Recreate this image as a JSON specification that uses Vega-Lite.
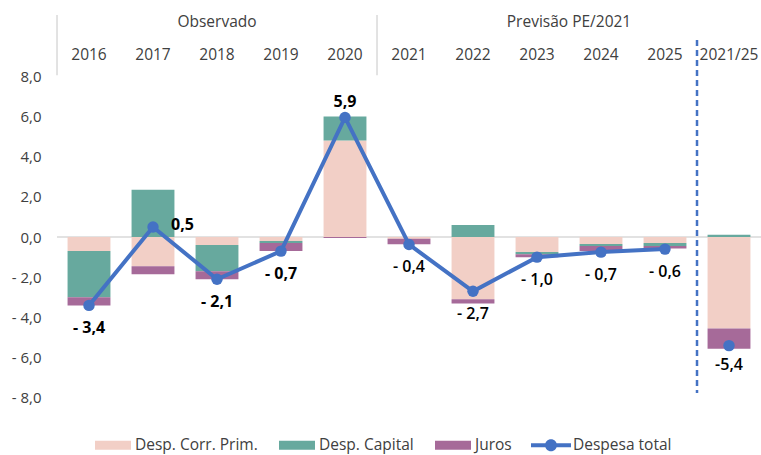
{
  "$schema": "https://vega.github.io/schema/vega-lite/v6.json",
  "width": 704,
  "height": 420,
  "autosize": {"type": "none"},
  "padding": {"left": 57, "top": 0, "right": 0, "bottom": 35},
  "background": "white",
  "config": {"view": {"stroke": null}, "font": "Open Sans"},
  "datasets": {
    "bars": [
      {"cat": "2016", "serie": "Desp. Corr. Prim.", "ord": 1, "value": -0.7},
      {"cat": "2016", "serie": "Desp. Capital", "ord": 2, "value": -2.3},
      {"cat": "2016", "serie": "Juros", "ord": 3, "value": -0.4},
      {"cat": "2017", "serie": "Desp. Corr. Prim.", "ord": 1, "value": -1.45},
      {"cat": "2017", "serie": "Desp. Capital", "ord": 2, "value": 2.35},
      {"cat": "2017", "serie": "Juros", "ord": 3, "value": -0.4},
      {"cat": "2018", "serie": "Desp. Corr. Prim.", "ord": 1, "value": -0.4},
      {"cat": "2018", "serie": "Desp. Capital", "ord": 2, "value": -1.3},
      {"cat": "2018", "serie": "Juros", "ord": 3, "value": -0.4},
      {"cat": "2019", "serie": "Desp. Corr. Prim.", "ord": 1, "value": -0.2},
      {"cat": "2019", "serie": "Desp. Capital", "ord": 2, "value": -0.1},
      {"cat": "2019", "serie": "Juros", "ord": 3, "value": -0.4},
      {"cat": "2020", "serie": "Desp. Corr. Prim.", "ord": 1, "value": 4.8},
      {"cat": "2020", "serie": "Desp. Capital", "ord": 2, "value": 1.2},
      {"cat": "2020", "serie": "Juros", "ord": 3, "value": -0.05},
      {"cat": "2021", "serie": "Desp. Corr. Prim.", "ord": 1, "value": -0.08},
      {"cat": "2021", "serie": "Desp. Capital", "ord": 2, "value": 0.0},
      {"cat": "2021", "serie": "Juros", "ord": 3, "value": -0.28},
      {"cat": "2022", "serie": "Desp. Corr. Prim.", "ord": 1, "value": -3.1},
      {"cat": "2022", "serie": "Desp. Capital", "ord": 2, "value": 0.6},
      {"cat": "2022", "serie": "Juros", "ord": 3, "value": -0.2},
      {"cat": "2023", "serie": "Desp. Corr. Prim.", "ord": 1, "value": -0.75},
      {"cat": "2023", "serie": "Desp. Capital", "ord": 2, "value": -0.1},
      {"cat": "2023", "serie": "Juros", "ord": 3, "value": -0.15},
      {"cat": "2024", "serie": "Desp. Corr. Prim.", "ord": 1, "value": -0.35},
      {"cat": "2024", "serie": "Desp. Capital", "ord": 2, "value": -0.1},
      {"cat": "2024", "serie": "Juros", "ord": 3, "value": -0.25},
      {"cat": "2025", "serie": "Desp. Corr. Prim.", "ord": 1, "value": -0.3},
      {"cat": "2025", "serie": "Desp. Capital", "ord": 2, "value": -0.15},
      {"cat": "2025", "serie": "Juros", "ord": 3, "value": -0.12},
      {"cat": "2021/25", "serie": "Desp. Corr. Prim.", "ord": 1, "value": -4.55},
      {"cat": "2021/25", "serie": "Desp. Capital", "ord": 2, "value": 0.12},
      {"cat": "2021/25", "serie": "Juros", "ord": 3, "value": -1.0}
    ],
    "totals": [
      {"cat": "2016", "period": "obs", "total": -3.4, "label": "- 3,4"},
      {"cat": "2017", "period": "obs", "total": 0.5, "label": "0,5"},
      {"cat": "2018", "period": "obs", "total": -2.1, "label": "- 2,1"},
      {"cat": "2019", "period": "obs", "total": -0.7, "label": "- 0,7"},
      {"cat": "2020", "period": "obs", "total": 5.95, "label": "5,9"},
      {"cat": "2021", "period": "prev", "total": -0.37, "label": "- 0,4"},
      {"cat": "2022", "period": "prev", "total": -2.7, "label": "- 2,7"},
      {"cat": "2023", "period": "prev", "total": -1.0, "label": "- 1,0"},
      {"cat": "2024", "period": "prev", "total": -0.75, "label": "- 0,7"},
      {"cat": "2025", "period": "prev", "total": -0.6, "label": "- 0,6"},
      {"cat": "2021/25", "period": "total", "total": -5.4, "label": "-5,4"}
    ]
  },
  "encoding": {
    "x": {
      "field": "cat",
      "type": "nominal",
      "sort": null,
      "scale": {
        "domain": ["2016", "2017", "2018", "2019", "2020", "2021", "2022", "2023", "2024", "2025", "2021/25"],
        "paddingInner": 0.33,
        "paddingOuter": 0.165
      },
      "axis": null
    }
  },
  "layer": [
    {
      "data": {"values": [{"z": 0}]},
      "mark": {"type": "rule", "color": "#D9D9D9", "strokeWidth": 1.5},
      "encoding": {
        "x": null,
        "y": {"datum": 0, "type": "quantitative", "scale": {"domain": [-9.1, 11.79], "nice": false, "zero": false}}
      }
    },
    {
      "data": {"name": "bars"},
      "mark": {"type": "bar"},
      "encoding": {
        "y": {
          "field": "value",
          "type": "quantitative",
          "stack": "zero",
          "scale": {"domain": [-9.1, 11.79], "nice": false, "zero": false},
          "axis": {
            "values": [-8, -6, -4, -2, 0, 2, 4, 6, 8],
            "labelExpr": "datum.value < 0 ? '- ' + replace(format(-datum.value, '.1f'), '.', ',') : replace(format(datum.value, '.1f'), '.', ',')",
            "ticks": false,
            "domain": false,
            "grid": false,
            "title": null,
            "labelFontSize": 15,
            "labelColor": "#404040",
            "labelPadding": 16
          }
        },
        "color": {
          "field": "serie",
          "type": "nominal",
          "scale": {
            "domain": ["Desp. Corr. Prim.", "Desp. Capital", "Juros", "Despesa total"],
            "range": ["#F2CFC6", "#67A99E", "#A66A99", "#4472C4"]
          },
          "legend": {
            "title": null,
            "orient": "none",
            "legendX": 36,
            "legendY": 425,
            "direction": "horizontal",
            "columns": 4,
            "columnPadding": 19,
            "labelFontSize": 15.5,
            "labelColor": "#404040",
            "labelOffset": 2,
            "symbolSize": 1600,
            "symbolType": "M-0.9,-0.225H0.9V0.225H-0.9Z",
            "symbolStrokeWidth": 0,
            "encode": {
              "symbols": {
                "update": {
                  "shape": {"signal": "datum.value === 'Despesa total' ? 'M-1,-0.1H1V0.1H-1Z M0.3,0A0.3,0.3 0 1,1 -0.3,0A0.3,0.3 0 1,1 0.3,0Z' : 'M-0.9,-0.225H0.9V0.225H-0.9Z'"},
                  "fill": {"scale": "color", "field": "value"},
                  "strokeWidth": {"value": 0},
                  "opacity": {"value": 1},
                  "fillOpacity": {"value": 1}
                }
              }
            }
          }
        },
        "order": {"field": "ord", "type": "quantitative"}
      }
    },
    {
      "data": {"name": "totals"},
      "transform": [{"filter": "datum.cat !== '2021/25'"}],
      "mark": {"type": "line", "strokeWidth": 4},
      "encoding": {
        "y": {"field": "total", "type": "quantitative"},
        "color": {"datum": "Despesa total", "type": "nominal"}
      }
    },
    {
      "data": {"name": "totals"},
      "mark": {"type": "point", "filled": true, "size": 130, "opacity": 1},
      "encoding": {
        "y": {"field": "total", "type": "quantitative"},
        "color": {"datum": "Despesa total", "type": "nominal"}
      }
    },
    {
      "data": {"name": "totals"},
      "transform": [{"filter": "datum.cat === '2017'"}],
      "mark": {"type": "text", "align": "left", "baseline": "middle", "dx": 18, "dy": -2, "fontSize": 16, "fontWeight": "bold", "color": "black"},
      "encoding": {"y": {"field": "total", "type": "quantitative"}, "text": {"field": "label"}}
    },
    {
      "data": {"name": "totals"},
      "transform": [{"filter": "datum.cat === '2020'"}],
      "mark": {"type": "text", "align": "center", "baseline": "middle", "dy": -15, "fontSize": 16, "fontWeight": "bold", "color": "black"},
      "encoding": {"y": {"field": "total", "type": "quantitative"}, "text": {"field": "label"}}
    },
    {
      "data": {"name": "totals"},
      "transform": [{"filter": "datum.period === 'obs' && datum.cat !== '2017' && datum.cat !== '2020'"}],
      "mark": {"type": "text", "align": "center", "baseline": "middle", "dy": 23, "fontSize": 16, "fontWeight": "bold", "color": "black"},
      "encoding": {"y": {"field": "total", "type": "quantitative"}, "text": {"field": "label"}}
    },
    {
      "data": {"name": "totals"},
      "transform": [{"filter": "datum.period === 'prev'"}],
      "mark": {"type": "text", "align": "center", "baseline": "middle", "dy": 23, "fontSize": 16, "fontWeight": 600, "color": "black"},
      "encoding": {"y": {"field": "total", "type": "quantitative"}, "text": {"field": "label"}}
    },
    {
      "data": {"name": "totals"},
      "transform": [{"filter": "datum.period === 'total'"}],
      "mark": {"type": "text", "align": "center", "baseline": "middle", "dy": 19, "fontSize": 16, "fontWeight": 600, "color": "black"},
      "encoding": {"y": {"field": "total", "type": "quantitative"}, "text": {"field": "label"}}
    },
    {
      "data": {"name": "totals"},
      "mark": {"type": "text", "align": "center", "baseline": "middle", "fontSize": 15.5, "color": "#404040"},
      "encoding": {"y": {"datum": 9.05, "type": "quantitative"}, "text": {"field": "cat"}}
    },
    {
      "data": {"values": [{"cat": "2018", "header": "Observado"}]},
      "mark": {"type": "text", "align": "center", "baseline": "middle", "fontSize": 15.5, "color": "#404040"},
      "encoding": {
        "x": {"field": "cat", "type": "nominal", "bandPosition": 0.5},
        "y": {"datum": 10.7, "type": "quantitative"},
        "text": {"field": "header"}
      }
    },
    {
      "data": {"values": [{"cat": "2024", "header": "Previsão PE/2021"}]},
      "mark": {"type": "text", "align": "center", "baseline": "middle", "fontSize": 15.5, "color": "#404040"},
      "encoding": {
        "x": {"field": "cat", "type": "nominal", "bandPosition": -0.246},
        "y": {"datum": 10.7, "type": "quantitative"},
        "text": {"field": "header"}
      }
    },
    {
      "data": {"values": [{"cat": "2016"}, {"cat": "2021"}]},
      "mark": {"type": "rule", "color": "#D9D9D9", "strokeWidth": 1.5},
      "encoding": {
        "x": {"field": "cat", "type": "nominal", "bandPosition": -0.246},
        "y": {"datum": 8.05, "type": "quantitative"},
        "y2": {"datum": 11.05}
      }
    },
    {
      "data": {"values": [{"cat": "2021/25"}]},
      "mark": {"type": "rule", "color": "#4472C4", "strokeWidth": 2.5, "strokeDash": [6, 4]},
      "encoding": {
        "x": {"field": "cat", "type": "nominal", "bandPosition": -0.246},
        "y": {"datum": 9.8, "type": "quantitative"},
        "y2": {"datum": -7.76}
      }
    }
  ]
}
